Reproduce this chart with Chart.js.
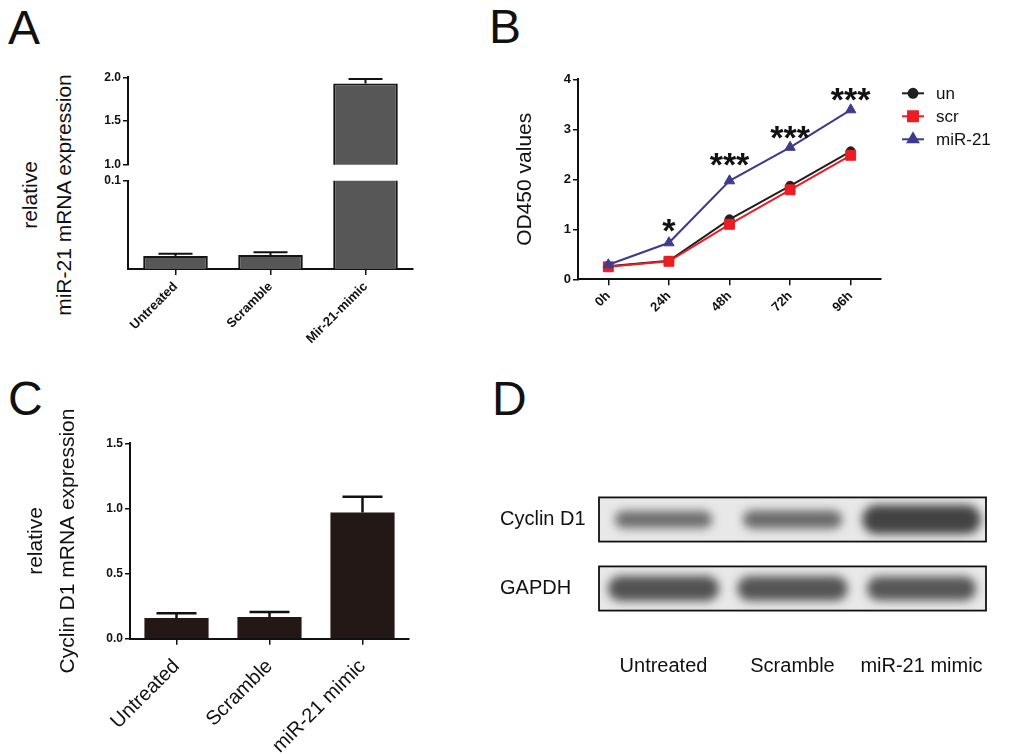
<!DOCTYPE html>
<html>
<head>
<meta charset="utf-8">
<script src="https://cdn.jsdelivr.net/npm/chart.js@4.4.1/dist/chart.umd.min.js"></script>
<style>
  html, body { margin: 0; padding: 0; background: #fff; }
  body { width: 1024px; height: 754px; position: relative; overflow: hidden;
         font-family: Arial, "Liberation Sans", Helvetica, sans-serif; color: #111; }
  canvas { position: absolute; }
  .letter { position: absolute; font-size: 48px; line-height: 48px; }
  #titleA { position: absolute; left: -103px; top: 161px; width: 300px; height: 68px;
            font-size: 21px; line-height: 34px; text-align: center; white-space: nowrap;
            transform: rotate(-90deg); }
</style>
</head>
<body>
<div class="letter" style="left:8px;top:4px">A</div>
<div class="letter" style="left:489px;top:3px">B</div>
<div class="letter" style="left:8px;top:375px">C</div>
<div class="letter" style="left:492px;top:375px">D</div>
<div id="titleA">relative<br>miR-21 mRNA expression</div>

<canvas id="chartA1" width="430" height="114" style="left:0;top:60px"></canvas>
<canvas id="chartA2" width="430" height="180" style="left:0;top:170px"></canvas>
<canvas id="chartB" width="534" height="290" style="left:490px;top:55px"></canvas>
<canvas id="chartC" width="430" height="359" style="left:0;top:395px"></canvas>
<canvas id="chartD" width="534" height="284" style="left:490px;top:470px"></canvas>

<script>
// panel A: miR-21 qPCR (broken axis)
const groupsA = ["Untreated", "Scramble", "Mir-21-mimic"];
const miR21Mean = [0.0147, 0.0159, 1.93];
const miR21Err = [0.0026, 0.0032, 0.05];
const ticksAUpper = [1.0, 1.5, 2.0];
const ticksALower = [0.1];

// panel B: CCK-8 growth curve
const hours = ["0h", "24h", "48h", "72h", "96h"];
const odUn = [0.26, 0.37, 1.2, 1.87, 2.56];
const odScr = [0.25, 0.36, 1.1, 1.79, 2.48];
const odMiR21 = [0.29, 0.73, 1.97, 2.64, 3.39];
const sigMarks = ["", "*", "***", "***", "***"];
const sigLevel = [null, 1.15, 2.47, 3.01, 3.76];
const ticksB = [0, 1, 2, 3, 4];

// panel C: cyclin D1 qPCR
const groupsC = ["Untreated", "Scramble", "miR-21 mimic"];
const cyclinMean = [0.159, 0.167, 0.969];
const cyclinErr = [0.036, 0.038, 0.12];
const ticksC = [0, 0.5, 1.0, 1.5];

// panel D: western blot band densities
const blotLanes = ["Untreated", "Scramble", "miR-21 mimic"];
const blotRows = ["Cyclin D1", "GAPDH"];
const cyclinBand = [0.45, 0.5, 1.0];
const gapdhBand = [0.8, 0.78, 0.75];

const FONT = 'Arial, "Liberation Sans", Helvetica, sans-serif';
const INK = "#111";
Chart.defaults.font.family = FONT;
Chart.defaults.color = INK;
Chart.defaults.animation = false;
Chart.defaults.plugins.legend.display = false;
Chart.defaults.plugins.tooltip.enabled = false;

function fixAxis(w, h) {
  return (s) => {
    if (w != null) s.width = w;
    if (h != null) s.height = h;
  };
}
function useTicks(list) {
  return (s) => { s.ticks = list.map((v) => ({ value: v })); };
}

// upward-only error bars, GraphPad style
const errorBars = {
  id: "errorBars",
  afterDatasetsDraw(chart, args, opts) {
    const { ctx, chartArea, scales } = chart;
    ctx.save();
    ctx.beginPath();
    ctx.rect(chartArea.left, chartArea.top - 2, chartArea.width, chartArea.height + 2);
    ctx.clip();
    ctx.strokeStyle = INK;
    ctx.lineWidth = opts.width || 2;
    chart.data.datasets.forEach((ds, di) => {
      const meta = chart.getDatasetMeta(di);
      (ds.errors || []).forEach((err, i) => {
        const v = ds.data[i];
        if (v == null || err == null) return;
        const x = meta.data[i].x;
        const yTop = scales.y.getPixelForValue(v);
        const yCap = scales.y.getPixelForValue(v + err);
        ctx.beginPath();
        ctx.moveTo(x, yTop);
        ctx.lineTo(x, yCap);
        ctx.moveTo(x - opts.cap, yCap);
        ctx.lineTo(x + opts.cap, yCap);
        ctx.stroke();
      });
    });
    ctx.restore();
  },
};

const axisLook = {
  border: { display: true, color: INK, width: 2 },
  grid: { display: true, drawOnChartArea: false, drawTicks: true, tickLength: 5, color: INK, lineWidth: 1.5 },
};

function barDatasetA() {
  return {
    data: miR21Mean,
    errors: miR21Err,
    backgroundColor: "#575757",
    borderColor: "#161616",
    borderWidth: 2,
    barPercentage: 0.68,
    categoryPercentage: 1,
    clip: 0,
  };
}

// A, upper segment 1.0 - 2.0
new Chart(document.getElementById("chartA1"), {
  type: "bar",
  data: { labels: groupsA, datasets: [barDatasetA()] },
  options: {
    responsive: false,
    layout: { padding: { top: 17.3, right: 17, bottom: 8, left: 0 } },
    plugins: { errorBars: { cap: 17, width: 2 } },
    scales: {
      x: { display: false },
      y: {
        min: 1, max: 2,
        ...axisLook,
        afterBuildTicks: useTicks(ticksAUpper),
        afterFit: fixAxis(128, null),
        ticks: { padding: 2, font: { size: 12, weight: "bold" }, callback: (v) => Number(v).toFixed(1) },
      },
    },
  },
  plugins: [errorBars],
});

// A, lower segment 0 - 0.1
new Chart(document.getElementById("chartA2"), {
  type: "bar",
  data: { labels: groupsA, datasets: [barDatasetA()] },
  options: {
    responsive: false,
    layout: { padding: { top: 10.7, right: 17, bottom: 0, left: 0 } },
    plugins: { errorBars: { cap: 17, width: 2 } },
    scales: {
      x: {
        ...axisLook,
        grid: { ...axisLook.grid, offset: false, tickLength: 6 },
        afterFit: fixAxis(null, 81),
        ticks: { padding: 4, minRotation: 45, maxRotation: 45, font: { size: 13, weight: "bold" } },
      },
      y: {
        min: 0, max: 0.1,
        ...axisLook,
        afterBuildTicks: useTicks(ticksALower),
        afterFit: fixAxis(128, null),
        ticks: { padding: 2, font: { size: 12, weight: "bold" }, callback: (v) => Number(v).toFixed(1) },
      },
    },
  },
  plugins: [errorBars],
});

// B
const sigStars = {
  id: "sigStars",
  afterDatasetsDraw(chart) {
    const { ctx, scales: { x, y } } = chart;
    ctx.save();
    ctx.font = "bold 34px " + FONT;
    ctx.textAlign = "center";
    ctx.textBaseline = "alphabetic";
    ctx.fillStyle = INK;
    sigMarks.forEach((m, i) => {
      if (!m) return;
      ctx.fillText(m, x.getPixelForValue(i), y.getPixelForValue(sigLevel[i]) + 20);
    });
    ctx.restore();
  },
};

const lineLegend = {
  id: "lineLegend",
  afterDraw(chart) {
    const { ctx, chartArea } = chart;
    ctx.save();
    ctx.font = "17px " + FONT;
    ctx.textBaseline = "middle";
    chart.data.datasets.forEach((ds, i) => {
      const y = chartArea.top + 14 + i * 23;
      const x0 = chartArea.right + 21;
      ctx.strokeStyle = ds.borderColor;
      ctx.lineWidth = 2;
      ctx.beginPath();
      ctx.moveTo(x0, y);
      ctx.lineTo(x0 + 22, y);
      ctx.stroke();
      ctx.fillStyle = ds.borderColor;
      Chart.helpers.drawPoint(ctx, { pointStyle: ds.pointStyle, radius: ds.pointRadius, rotation: 0, borderWidth: 1 }, x0 + 11, y);
      ctx.fillStyle = INK;
      ctx.fillText(ds.label, x0 + 34, y + 1);
    });
    ctx.restore();
  },
};

function growthLine(label, data, color, style, radius, order) {
  return {
    label, data, order,
    borderColor: color,
    backgroundColor: color,
    borderWidth: 2,
    pointStyle: style,
    pointRadius: radius,
    pointBorderWidth: 1,
    tension: 0,
  };
}

new Chart(document.getElementById("chartB"), {
  type: "line",
  data: {
    labels: hours,
    datasets: [
      growthLine("un", odUn, "#231f20", "circle", 4.5, 3),
      growthLine("scr", odScr, "#ec1c24", "rect", 7, 2),
      growthLine("miR-21", odMiR21, "#3e3b8f", "triangle", 6, 1),
    ],
  },
  options: {
    responsive: false,
    layout: { padding: { top: 24.3, right: 143, bottom: 0, left: 0 } },
    scales: {
      x: {
        offset: true,
        ...axisLook,
        grid: { ...axisLook.grid, offset: false, tickLength: 6 },
        afterFit: fixAxis(null, 65.7),
        ticks: { padding: 3, minRotation: 45, maxRotation: 45, font: { size: 13, weight: "bold" } },
      },
      y: {
        min: 0, max: 4,
        ...axisLook,
        afterBuildTicks: useTicks(ticksB),
        afterFit: fixAxis(88, null),
        ticks: { padding: 2, font: { size: 13, weight: "bold" } },
        title: { display: true, text: "OD450 values", font: { size: 21, lineHeight: 1.2 }, padding: { top: 23, bottom: 0 } },
      },
    },
  },
  plugins: [sigStars, lineLegend],
});

// C
new Chart(document.getElementById("chartC"), {
  type: "bar",
  data: {
    labels: groupsC,
    datasets: [{
      data: cyclinMean,
      errors: cyclinErr,
      backgroundColor: "#231815",
      borderColor: "#231815",
      borderWidth: 0,
      barPercentage: 0.69,
      categoryPercentage: 1,
      clip: 0,
    }],
  },
  options: {
    responsive: false,
    layout: { padding: { top: 48.3, right: 21, bottom: 0, left: 0 } },
    plugins: { errorBars: { cap: 20, width: 2.5 } },
    scales: {
      x: {
        ...axisLook,
        grid: { ...axisLook.grid, offset: false, tickLength: 6 },
        afterFit: fixAxis(null, 115.3),
        ticks: { padding: 10, minRotation: 45, maxRotation: 45, font: { size: 20 } },
      },
      y: {
        min: 0, max: 1.5,
        ...axisLook,
        afterBuildTicks: useTicks(ticksC),
        afterFit: fixAxis(130, null),
        ticks: { padding: 2, font: { size: 12, weight: "bold" }, callback: (v) => Number(v).toFixed(1) },
        title: { display: true, text: ["relative", "Cyclin D1 mRNA expression"], font: { size: 21, lineHeight: 1.52 }, padding: { top: 20, bottom: 0 } },
      },
    },
  },
  plugins: [errorBars],
});

// D: blot drawn from band densities on category scales
const bandRows = [cyclinBand, gapdhBand];
const blotBands = {
  id: "blotBands",
  beforeDatasetsDraw(chart) {
    const { ctx, chartArea: ca, scales: { x, y } } = chart;
    const rowH = Math.abs(y.getPixelForValue(1) - y.getPixelForValue(0));
    const laneW = Math.abs(x.getPixelForValue(1) - x.getPixelForValue(0));
    bandRows.forEach((row, r) => {
      const cy = y.getPixelForValue(r);
      const top = cy - rowH * 0.32;
      const h = rowH * 0.64;
      ctx.save();
      ctx.fillStyle = "#e8e8e8";
      ctx.fillRect(ca.left, top, ca.width, h);
      ctx.beginPath();
      ctx.rect(ca.left, top, ca.width, h);
      ctx.clip();
      row.forEach((d, i) => {
        const cx = x.getPixelForValue(i);
        const w = laneW * (0.62 + 0.3 * d);
        const bh = rowH * (0.12 + 0.3 * d);
        ctx.filter = "blur(5px)";
        ctx.fillStyle = "rgba(30,30,30," + (0.42 + 0.4 * d).toFixed(2) + ")";
        ctx.beginPath();
        ctx.roundRect(cx - w / 2, cy - bh / 2, w, bh, bh / 2);
        ctx.fill();
      });
      ctx.restore();
      ctx.save();
      ctx.strokeStyle = INK;
      ctx.lineWidth = 1.8;
      ctx.strokeRect(ca.left, top, ca.width, h);
      ctx.restore();
    });
  },
};

new Chart(document.getElementById("chartD"), {
  type: "bar",
  data: { labels: blotLanes, datasets: [] },
  options: {
    responsive: false,
    layout: { padding: { top: 15, right: 38, bottom: 0, left: 10 } },
    scales: {
      x: {
        type: "category",
        labels: blotLanes,
        offset: true,
        border: { display: false },
        grid: { display: false },
        afterFit: fixAxis(null, 131),
        ticks: { padding: 23, maxRotation: 0, font: { size: 20 } },
      },
      y: {
        type: "category",
        labels: blotRows,
        offset: true,
        border: { display: false },
        grid: { display: false },
        afterFit: fixAxis(99, null),
        ticks: { padding: 0, crossAlign: "far", font: { size: 20 } },
      },
    },
  },
  plugins: [blotBands],
});
</script>
</body>
</html>
